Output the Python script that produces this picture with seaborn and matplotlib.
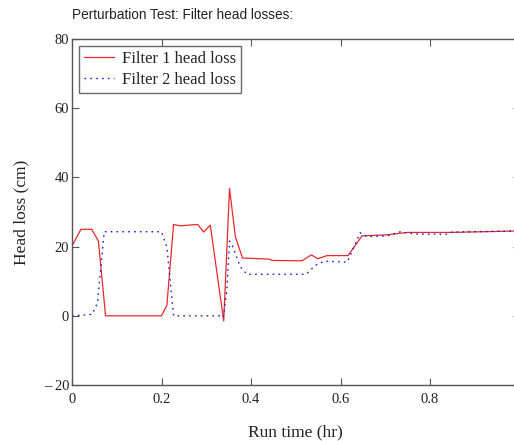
import matplotlib
matplotlib.use("Agg")
import matplotlib.pyplot as plt
import seaborn as sns
import pandas as pd

# Filter 1 head loss (cm) against run time (hr)
time1 = [0.0, 0.02, 0.044, 0.059, 0.075, 0.2, 0.212, 0.227, 0.242, 0.281, 0.294,
         0.309, 0.339, 0.352, 0.365, 0.381, 0.439, 0.448, 0.514, 0.535, 0.549,
         0.570, 0.617, 0.648, 0.704, 0.749, 0.846, 0.99]
loss1 = [20.2, 25.0, 25.0, 21.6, 0.0, 0.0, 3.0, 26.4, 26.0, 26.4, 24.2,
         26.2, -1.5, 36.8, 22.9, 16.7, 16.4, 16.0, 15.9, 17.6, 16.5,
         17.4, 17.4, 23.1, 23.4, 24.1, 24.1, 24.5]

# Filter 2 head loss (cm) against run time (hr)
time2 = [0.0, 0.045, 0.057, 0.072, 0.2, 0.212, 0.227, 0.331, 0.338, 0.346, 0.352,
         0.359, 0.376, 0.391, 0.523, 0.544, 0.564, 0.615, 0.644, 0.659, 0.704,
         0.734, 0.75, 0.775, 0.838, 0.85, 0.99]
loss2 = [0.0, 0.4, 3.7, 24.3, 24.3, 19.9, 0.0, 0.0, -0.5, 7.5, 21.6,
         20.0, 14.2, 12.0, 12.0, 14.6, 15.8, 15.5, 24.0, 22.9, 23.1,
         24.3, 23.9, 23.6, 23.6, 24.2, 24.5]

y_ticks = [-20, 0, 20, 40, 60, 80]
y_tick_labels = ["\u2013 20", "0", "20", "40", "60", "80"]
x_ticks = [0, 0.2, 0.4, 0.6, 0.8]
x_tick_labels = ["0", "0.2", "0.4", "0.6", "0.8"]

sns.set_style("ticks")
plt.rcParams["font.family"] = ["Liberation Serif", "DejaVu Serif"]

fig = plt.figure(figsize=(5.14, 4.41), dpi=100)
ax = fig.add_axes([72 / 514, 56 / 441, 447.5 / 514, 346 / 441])

df1 = pd.DataFrame({"t": time1, "h": loss1})
df2 = pd.DataFrame({"t": time2, "h": loss2})
sns.lineplot(data=df1, x="t", y="h", ax=ax, color="#e8282a", linewidth=0.9,
             sort=False, estimator=None, label="Filter 1 head loss")
sns.lineplot(data=df2, x="t", y="h", ax=ax, color="#1c1cf0", linewidth=1.0,
             linestyle=(0, (1.2, 3.0)), sort=False, estimator=None,
             label="Filter 2 head loss")

ax.set_xlim(0, 1.0)
ax.set_ylim(-20, 80)
ax.set_xticks(x_ticks)
ax.set_xticklabels(x_tick_labels)
ax.set_yticks(y_ticks)
ax.set_yticklabels(y_tick_labels)
ax.tick_params(direction="in", length=5, width=0.8, color="#555555",
               labelsize=10.5, labelcolor="#222222", top=True, right=True)
ax.tick_params(axis="x", pad=6)
ax.tick_params(axis="y", pad=2)
for s in ax.spines.values():
    s.set_color("#555555")
    s.set_linewidth(1.0)

ax.set_xlabel("Run time (hr)", fontsize=12.5, labelpad=13, color="#222222")
ax.set_ylabel("Head loss (cm)", fontsize=12.5, labelpad=10, color="#222222")

leg = ax.legend(loc="upper left", bbox_to_anchor=(7 / 447.5, 1 - 7 / 346),
                fontsize=12, frameon=True, fancybox=False, borderpad=0.3,
                handlelength=1.8, handletextpad=0.45, labelspacing=0.3,
                borderaxespad=0)
leg.get_frame().set_edgecolor("#444444")
leg.get_frame().set_linewidth(1.0)

fig.text(72 / 514, 1 - 15 / 441, "Perturbation Test: Filter head losses:",
         fontsize=9.8, family=["Liberation Sans", "DejaVu Sans"], va="center",
         ha="left", color="#222222")

fig.savefig("out.png", dpi=100)
